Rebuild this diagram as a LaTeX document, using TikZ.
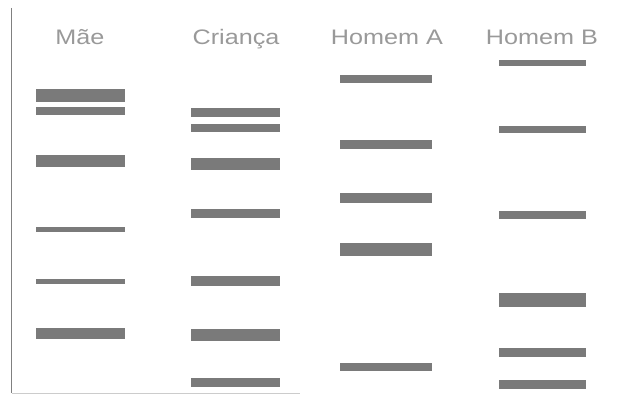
\documentclass[tikz,border=0pt]{standalone}
\usepackage{fontspec}
\setmainfont{Liberation Sans}

\begin{document}
\begin{tikzpicture}[x=1pt, y=-1pt,
    lane/.style={text=black!40, font=\fontsize{21}{25}\selectfont, anchor=base,
                 xscale=1.2, transform shape, inner sep=0pt},
    band/.style={fill=black!52}]
    \useasboundingbox (0,0) rectangle (617,396);
    % gel edges
    \draw[black!50, line width=1.5pt] (11.5,8) -- (11.5,393);
    \draw[black!20, line width=1pt] (11.5,393) -- (300,393);
    % lane names
    \node[lane] (mae) at (80,45) {Mãe};
    \node[lane] (crianca) at (236,45) {Criança};
    \node[lane] (homemA) at (387,45) {Homem A};
    \node[lane] (homemB) at (542,45) {Homem B};
    % Mae bands
    \foreach \y/\h in {95/13, 111/8, 161/12, 229.5/5, 281.5/5, 333/11}
        \fill[band] (36,\y-\h/2) rectangle (125,\y+\h/2);
    % Crianca bands
    \foreach \y/\h in {112.5/9, 128/8, 164/12, 213.5/9, 281/10, 335/12, 382/9}
        \fill[band] (191,\y-\h/2) rectangle (280,\y+\h/2);
    % Homem A bands
    \foreach \y/\h in {79/8, 144.5/9, 197.5/10, 249/13, 367/8}
        \fill[band] (340,\y-\h/2) rectangle (432,\y+\h/2);
    % Homem B bands
    \foreach \y/\h in {62.5/6, 129.5/7, 215/8, 300/14, 352/9, 384/9}
        \fill[band] (499,\y-\h/2) rectangle (586,\y+\h/2);
\end{tikzpicture}
\end{document}
